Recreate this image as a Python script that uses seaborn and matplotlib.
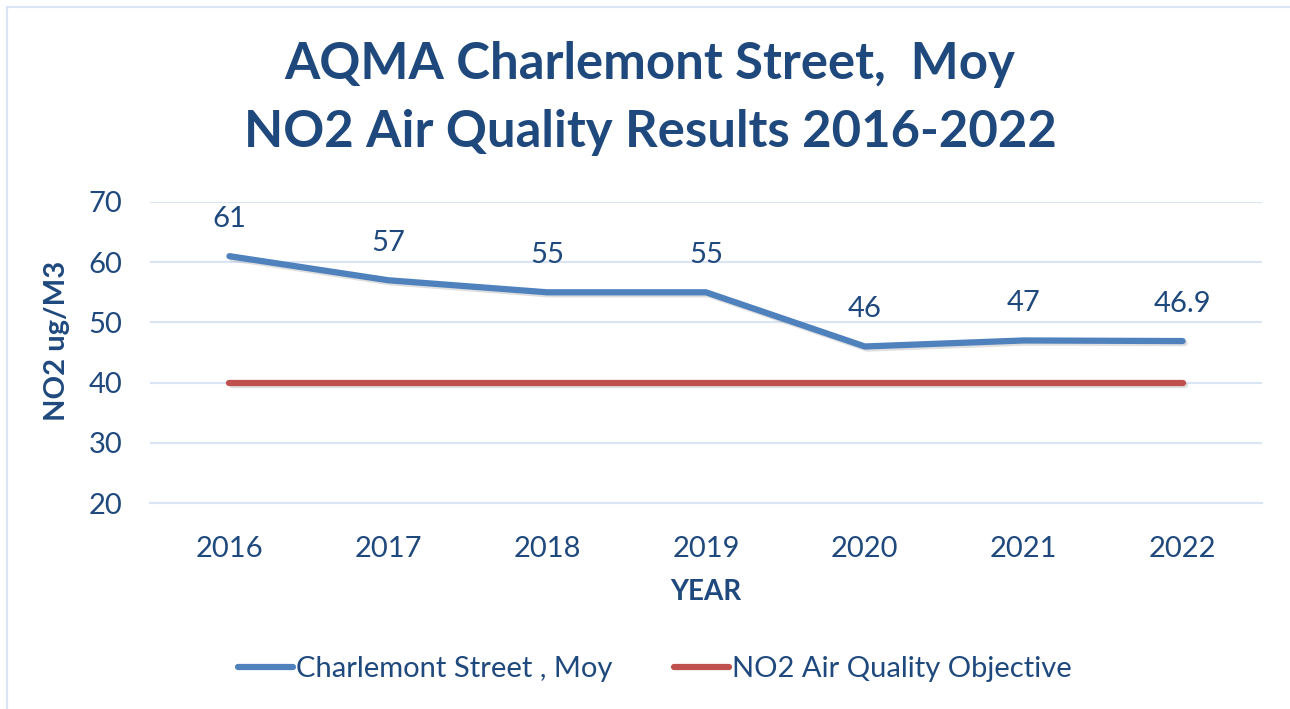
import matplotlib
matplotlib.use("Agg")
import matplotlib.pyplot as plt
import matplotlib.patheffects as pe
from matplotlib.patches import Rectangle
from matplotlib.ticker import FixedLocator
import seaborn as sns
import pandas as pd

years = [2016, 2017, 2018, 2019, 2020, 2021, 2022]
charlemont = [61, 57, 55, 55, 46, 47, 46.9]
objective = [40, 40, 40, 40, 40, 40, 40]
value_labels = ["61", "57", "55", "55", "46", "47", "46.9"]
series_names = ["Charlemont Street , Moy", "NO2 Air Quality Objective"]

TEXT = "#1F497D"
BLUE = "#4F81BD"
RED = "#C0504D"
GRID = "#D9E5F5"

df = pd.DataFrame({
    "year": years * 2,
    "value": charlemont + objective,
    "series": [series_names[0]] * len(years) + [series_names[1]] * len(years),
})

sns.set_style("white")
plt.rcParams["font.family"] = ["Lato", "DejaVu Sans"]

fig = plt.figure(figsize=(12.9, 7.09), dpi=100)
ax = fig.add_axes([150 / 1290, 1 - 503 / 709, 1112 / 1290, 301 / 709])

shadow = [pe.SimpleLineShadow(offset=(1.5, -1.5), alpha=0.25, shadow_color="gray"), pe.Normal()]
sns.lineplot(data=df, x="year", y="value", hue="series",
             palette=[BLUE, RED], linewidth=4.5, ax=ax, legend=False,
             solid_capstyle="round")
for ln in ax.lines:
    ln.set_path_effects(shadow)

for x, y, lab in zip(years, charlemont, value_labels):
    ax.annotate(lab, (x, y), xytext=(0, 27), textcoords="offset points",
                ha="center", va="center", fontsize=21, color=TEXT)

ax.set_xlim(2015.5, 2022.5)
ax.set_ylim(20, 70)
ax.set_yticks([20, 30, 40, 50, 60, 70])
ax.set_xticks(years)
ax.xaxis.set_minor_locator(FixedLocator([y - 0.5 for y in years] + [2022.5]))
ax.grid(axis="y", color=GRID, linewidth=1.5)
ax.grid(axis="x", visible=False)
for s in ["top", "right", "left"]:
    ax.spines[s].set_visible(False)
ax.spines["bottom"].set_color(GRID)
ax.spines["bottom"].set_linewidth(1.5)
ax.tick_params(axis="x", which="major", length=0, pad=24, labelsize=21, labelcolor=TEXT)
ax.tick_params(axis="x", which="minor", length=8, width=1.5, color=GRID)
ax.tick_params(axis="y", length=0, pad=20, labelsize=21, labelcolor=TEXT)
ax.set_xlabel("YEAR", fontsize=20, fontweight="bold", color=TEXT, labelpad=12)
ax.set_ylabel("NO2 ug/M3", fontsize=21, fontweight="bold", color=TEXT)
ax.yaxis.set_label_coords(-80 / 1112, 0.54)

fig.text(650 / 1290, 1 - 65 / 709, "AQMA Charlemont Street,  Moy", ha="center", va="center",
         fontsize=36.6, fontweight="bold", color=TEXT)
fig.text(650 / 1290, 1 - 132 / 709, "NO2 Air Quality Results 2016-2022", ha="center", va="center",
         fontsize=36.6, fontweight="bold", color=TEXT)

# legend
handles = [plt.Line2D([], [], color=c, linewidth=4.5, solid_capstyle="round") for c in [BLUE, RED]]
fig.legend(handles, series_names, loc="center", bbox_to_anchor=(655 / 1290, 1 - 669 / 709),
           ncol=2, frameon=False, fontsize=21, labelcolor=TEXT, handlelength=1.9,
           handletextpad=0.1, columnspacing=2.1)

fig.patches.append(Rectangle((7 / 1290, -0.1), 1.2, 1 - 7 / 709 + 0.1, transform=fig.transFigure,
                             fill=False, edgecolor=GRID, linewidth=1.5))

fig.savefig("out.png", dpi=100, facecolor="white")
